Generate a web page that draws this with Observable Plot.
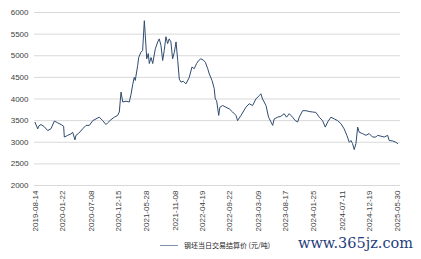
<!DOCTYPE html>
<html>
<head>
<meta charset="utf-8">
<script src="https://cdn.jsdelivr.net/npm/d3@7"></script>
<script src="https://cdn.jsdelivr.net/npm/@observablehq/plot@0.6"></script>
<style>
  html, body { margin: 0; padding: 0; background: #fff; }
  #wrap { position: relative; width: 421px; height: 259px; overflow: hidden; }
  #legend { position: absolute; left: 160px; top: 238px; height: 14px; display: flex; align-items: center;
    font-family: "Noto Sans CJK SC", sans-serif; font-size: 7px; color: #222; white-space: nowrap; }
  #legend .sw { width: 18px; height: 0; border-top: 1px solid #7f93ad; margin-right: 6px; }
  #wm { position: absolute; left: 0; top: 0; }
</style>
</head>
<body>
<div id="wrap">
  <div id="chart"></div>
  <div id="legend"><span class="sw"></span><span id="legendText"></span></div>
  <svg id="wm" width="421" height="259"><text x="298" y="248" textLength="115" lengthAdjust="spacingAndGlyphs" font-family="'DejaVu Serif', serif" font-size="15" fill="#1f3d7a">www.365jz.com</text></svg>
</div>
<script>
const seriesName = "钢坯当日交易结算价 (元/吨)";

const dates = [
  "2019-08-14","2019-08-30","2019-09-06","2019-09-18","2019-10-07","2019-10-27","2019-11-15","2019-12-05","2019-12-24","2020-01-13",
  "2020-01-28","2020-02-01","2020-02-21","2020-03-11","2020-03-21","2020-04-03","2020-04-09","2020-04-23","2020-05-18","2020-06-07",
  "2020-06-26","2020-07-16","2020-08-04","2020-08-23","2020-09-12","2020-10-01","2020-10-11","2020-10-30","2020-11-19","2020-12-08",
  "2020-12-18","2020-12-28","2021-01-07","2021-01-26","2021-02-14","2021-02-24","2021-03-06","2021-03-15","2021-03-21","2021-04-04",
  "2021-04-10","2021-04-23","2021-05-03","2021-05-13","2021-05-18","2021-05-27","2021-06-05","2021-06-11","2021-06-21","2021-07-01",
  "2021-07-16","2021-07-30","2021-08-08","2021-08-18","2021-08-28","2021-09-06","2021-09-16","2021-09-26","2021-10-05","2021-10-15",
  "2021-10-25","2021-11-04","2021-11-14","2021-11-24","2021-12-03","2021-12-13","2021-12-26","2022-01-11","2022-01-30","2022-02-15",
  "2022-02-28","2022-03-14","2022-03-26","2022-04-08","2022-04-22","2022-05-04","2022-05-18","2022-05-27","2022-06-12","2022-06-25",
  "2022-07-01","2022-07-09","2022-07-21","2022-07-28","2022-08-13","2022-09-01","2022-09-21","2022-10-10","2022-10-30","2022-11-08",
  "2022-11-28","2022-12-27","2023-01-15","2023-02-04","2023-02-23","2023-03-15","2023-03-24","2023-04-03","2023-04-23","2023-05-08",
  "2023-05-22","2023-06-01","2023-06-10","2023-06-30","2023-07-19","2023-08-07","2023-08-21","2023-09-06","2023-09-25","2023-10-11",
  "2023-10-25","2023-11-03","2023-11-23","2023-12-12","2023-12-31","2024-01-20","2024-02-08","2024-02-28","2024-03-18","2024-04-03",
  "2024-04-17","2024-05-06","2024-05-25","2024-06-14","2024-07-03","2024-07-22","2024-08-07","2024-08-21","2024-08-31","2024-09-09",
  "2024-09-19","2024-09-29","2024-10-09","2024-10-18","2024-11-07","2024-11-26","2024-12-15","2025-01-04","2025-01-23","2025-02-02",
  "2025-02-22","2025-03-13","2025-04-02","2025-04-11","2025-05-01","2025-05-20","2025-05-30"
];

const prices = [
  3460,3310,3380,3410,3360,3270,3310,3490,3450,3410,
  3370,3120,3160,3195,3230,3055,3160,3200,3310,3390,
  3390,3500,3540,3580,3500,3410,3450,3520,3580,3620,
  3700,4160,3930,3950,3930,4100,4330,4500,4430,4770,
  4960,5080,5120,5810,5510,4930,5050,4820,4960,4820,
  5160,5320,5390,5240,4890,5120,5440,5280,5390,5320,
  4930,5080,5320,4890,4460,4390,4410,4350,4500,4740,
  4700,4820,4890,4930,4900,4850,4700,4580,4430,4240,
  4000,3960,3620,3810,3850,3810,3770,3700,3620,3500,
  3620,3810,3890,3850,4000,4080,4120,4000,3850,3580,
  3470,3390,3540,3580,3600,3660,3580,3660,3580,3500,
  3470,3580,3730,3730,3710,3700,3690,3580,3500,3350,
  3470,3580,3540,3500,3430,3310,3160,3000,3040,2970,
  2830,2970,3350,3230,3200,3160,3200,3120,3120,3160,
  3140,3120,3160,3040,3030,3000,2970
];

const xTickLabels = ["2019-08-14","2020-01-22","2020-07-08","2020-12-15","2021-05-28","2021-11-08","2022-04-19",
  "2022-09-22","2023-03-09","2023-08-17","2024-01-25","2024-07-11","2024-12-19","2025-05-30"];
const yTicks = [2000,2500,3000,3500,4000,4500,5000,5500,6000];

const data = dates.map((d, i) => ({date: new Date(d), value: prices[i]}));
const xTicks = xTickLabels.map(d => new Date(d));

const chart = Plot.plot({
  width: 421,
  height: 236,
  marginLeft: 34,
  marginRight: 21,
  marginTop: 12,
  marginBottom: 51,
  style: {fontFamily: "'Liberation Sans', Arial, sans-serif", fontSize: "8px", color: "#404040", background: "transparent"},
  x: {type: "utc", domain: [new Date("2019-08-11"), new Date("2025-06-16")]},
  y: {domain: [2000, 6000]},
  marks: [
    Plot.gridY(yTicks, {stroke: "#d9d9d9", strokeOpacity: 1}),
    Plot.axisY(yTicks, {tickSize: 0, tickPadding: 6, label: null, tickFormat: d => String(d)}),
    Plot.axisX(xTicks, {tickSize: 0, tickPadding: 5, tickRotate: -90, label: null, tickFormat: d3.utcFormat("%Y-%m-%d")}),
    Plot.lineY(data, {x: "date", y: "value", stroke: "#2f4b6e", strokeWidth: 1})
  ]
});
document.getElementById("chart").appendChild(chart);
document.getElementById("legendText").textContent = seriesName;
</script>
</body>
</html>
